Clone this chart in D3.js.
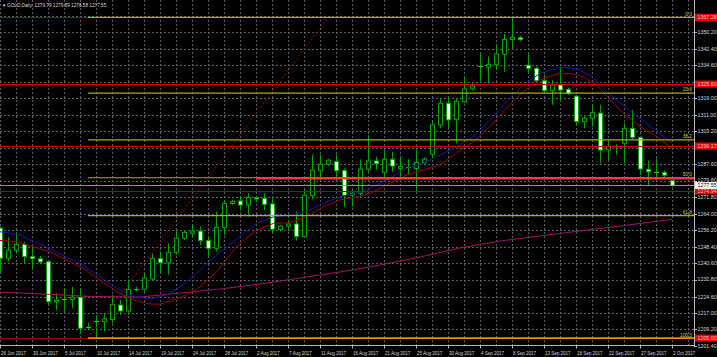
<!DOCTYPE html>
<html><head><meta charset="utf-8">
<script src="https://cdn.jsdelivr.net/npm/d3@7"></script>
<style>html,body{margin:0;padding:0;background:#000;overflow:hidden}svg{display:block}</style>
</head><body>
<svg id="c" width="717" height="357"></svg>
<script>
// ---------- DATA ----------
const symbolTitle = "GOLD,Daily";
const titleQuote = [1279.79, 1279.89, 1276.58, 1277.55];

const dates = [
"2017-06-26","2017-06-27","2017-06-28","2017-06-29","2017-06-30",
"2017-07-02","2017-07-03","2017-07-04","2017-07-05","2017-07-06","2017-07-07",
"2017-07-09","2017-07-10","2017-07-11","2017-07-12","2017-07-13","2017-07-14",
"2017-07-16","2017-07-17","2017-07-18","2017-07-19","2017-07-20","2017-07-21",
"2017-07-23","2017-07-24","2017-07-25","2017-07-26","2017-07-27","2017-07-28",
"2017-07-30","2017-07-31","2017-08-01","2017-08-02","2017-08-03","2017-08-04",
"2017-08-06","2017-08-07","2017-08-08","2017-08-09","2017-08-10","2017-08-11",
"2017-08-13","2017-08-14","2017-08-15","2017-08-16","2017-08-17","2017-08-18",
"2017-08-20","2017-08-21","2017-08-22","2017-08-23","2017-08-24","2017-08-25",
"2017-08-27","2017-08-28","2017-08-29","2017-08-30","2017-08-31","2017-09-01",
"2017-09-03","2017-09-04","2017-09-05","2017-09-06","2017-09-07","2017-09-08",
"2017-09-10","2017-09-11","2017-09-12","2017-09-13","2017-09-14","2017-09-15",
"2017-09-17","2017-09-18","2017-09-19","2017-09-20","2017-09-21","2017-09-22",
"2017-09-24","2017-09-25","2017-09-26","2017-09-27","2017-09-28","2017-09-29",
"2017-10-01","2017-10-02"];

const opens = [1257.2,1242.9,1246.8,1249.5,1243.7,1242.6,1241.3,1222.3,1223.0,1223.4,1224.4,
1209.7,1212.8,1212.8,1213.9,1220.7,1217.9,1228.1,1228.3,1233.1,1242.7,1240.8,1245.7,
1252.4,1254.8,1255.8,1251.3,1247.6,1257.6,1268.9,1270.1,1268.2,1271.7,1271.4,1268.7,
1256.6,1258.2,1259.2,1253.2,1272.6,1284.5,1287.5,1288.8,1284.5,1272.9,1273.8,1285.2,
1289.1,1283.7,1289.9,1285.5,1286.2,1285.5,1288.4,1292.3,1306.2,1316.5,1308.9,1317.2,
1323.3,1334.2,1333.7,1334.8,1339.7,1346.8,1347.6,1334.6,1333.1,1327.2,1322.5,1325.2,
1323.1,1319.9,1307.8,1309.4,1311.8,1294.3,1295.9,1297.5,1304.6,1300.2,1285.1,1284.0,
1283.7,1279.79];
const highs = [1257.9,1252.9,1254.8,1250.8,1248.4,1244.0,1242.1,1226.3,1228.7,1229.4,1228.7,
1212.3,1216.0,1216.8,1225.5,1223.1,1232.9,1229.5,1235.8,1245.3,1246.0,1250.0,1256.3,
1256.0,1258.7,1258.0,1253.2,1265.0,1270.3,1270.8,1272.3,1273.8,1272.5,1273.8,1271.4,
1258.8,1261.0,1265.0,1276.1,1292.0,1292.0,1290.0,1292.0,1285.6,1275.3,1289.9,1301.4,
1291.0,1294.3,1293.5,1291.1,1290.0,1294.3,1290.8,1307.8,1318.5,1319.5,1318.9,1329.1,
1326.0,1340.2,1338.6,1344.2,1349.4,1357.3,1348.5,1340.2,1333.9,1330.0,1327.5,1333.9,
1324.0,1320.4,1310.9,1315.7,1315.7,1298.7,1297.0,1307.0,1313.3,1300.7,1289.2,1290.4,
1284.5,1279.89];
const lows = [1235.9,1241.3,1245.3,1240.5,1238.1,1240.0,1220.7,1218.4,1217.6,1219.2,1207.3,
1208.8,1205.0,1208.1,1212.0,1216.0,1216.0,1227.3,1227.0,1232.6,1235.4,1235.0,1244.5,
1251.5,1253.2,1249.2,1243.7,1246.0,1253.9,1268.2,1265.6,1262.6,1270.0,1265.8,1254.8,
1255.6,1255.8,1251.3,1253.0,1270.9,1280.0,1286.8,1280.0,1267.4,1267.4,1272.1,1284.0,
1285.0,1281.7,1284.0,1281.7,1283.0,1273.8,1287.6,1290.4,1304.6,1304.6,1297.5,1316.5,
1322.5,1326.7,1326.0,1332.3,1331.5,1342.6,1346.0,1330.7,1326.0,1321.0,1315.7,1318.0,
1320.5,1306.2,1304.6,1305.4,1288.0,1289.6,1292.0,1288.0,1299.0,1282.4,1277.7,1280.1,
1281.5,1276.58];
const closes = [1242.9,1246.8,1249.5,1243.7,1242.7,1241.2,1222.3,1223.0,1223.5,1224.4,1209.7,
1210.2,1213.0,1214.1,1221.0,1217.9,1228.2,1228.5,1233.4,1242.9,1240.8,1245.7,1252.4,
1255.2,1255.8,1251.3,1247.6,1257.6,1269.0,1269.8,1268.2,1271.7,1271.1,1268.5,1256.7,
1258.2,1259.2,1253.2,1272.9,1284.8,1287.5,1289.5,1284.5,1272.9,1273.8,1285.2,1289.1,
1287.8,1289.9,1286.7,1286.5,1286.3,1288.4,1290.0,1306.2,1316.5,1308.6,1317.5,1323.3,
1324.7,1334.4,1335.0,1339.9,1346.8,1347.8,1346.7,1333.1,1327.2,1322.5,1325.2,1322.8,
1321.2,1307.8,1309.4,1312.1,1294.3,1295.9,1296.0,1304.6,1300.3,1285.3,1284.0,1284.1,
1282.4,1277.55];

// moving averages: [bar index, price]
const maFast = [[0,1255.5],[2.5,1254.0],[4.2,1250.8],[6.25,1247.6],[8.3,1243.4],[10.4,1239.7],
[12.5,1234.2],[14.6,1228.7],[16.7,1224.7],[18.75,1223.6],[20.8,1225.5],[22.9,1230.2],[25,1237.3],
[27.1,1244.5],[29.2,1250.8],[30,1253.2],[32.1,1259.5],[34.2,1262.6],[36.25,1263.5],[38.3,1265.0],
[40.4,1269.0],[42.5,1272.1],[44.6,1273.8],[46.7,1276.9],[48.75,1280.9],[50.8,1285.6],[52.9,1288.0],
[55,1291.9],[57.1,1296.0],[59.2,1300.6],[61.25,1308.6],[63.3,1317.2],[65.4,1325.2],[67.5,1330.7],
[69.6,1333.1],[70.8,1333.6],[72.5,1332.3],[74.2,1328.4],[75.8,1322.0],[77.9,1315.7],[80,1309.4],
[82.1,1303.0],[84,1297.6]];
const maSlow = [[0,1251.4],[2.1,1250.8],[4.2,1248.4],[6.25,1246.0],[8.3,1242.1],[10.4,1238.2],
[12.5,1232.6],[14.6,1227.0],[16.7,1223.1],[18.75,1221.2],[20,1221.1],[21.7,1223.1],[23.3,1225.5],
[25,1229.4],[27.1,1236.5],[29.2,1246.8],[30,1250.0],[32.1,1256.3],[34.2,1259.5],[36.25,1259.8],
[38.3,1262.6],[40.4,1267.4],[42.5,1270.6],[44.6,1272.1],[46.7,1274.5],[48.75,1278.5],[50.8,1282.4],
[52.9,1284.8],[55,1287.2],[57.1,1293.1],[59.2,1298.3],[61.25,1305.4],[63.3,1314.1],[65.4,1322.0],
[67.5,1327.6],[69.6,1330.3],[71.25,1330.7],[72.9,1329.1],[74.6,1325.2],[76.25,1318.1],[77.9,1311.7],
[80,1305.4],[82.1,1300.6],[84,1295.3]];
const maLong = [[-1,1227.0],[5,1226.0],[11.25,1224.8],[17.5,1224.5],[22.5,1226.4],[27.5,1228.3],
[32.5,1230.7],[37.5,1233.5],[42.5,1236.4],[47.5,1239.7],[52.5,1243.5],[57.5,1247.8],[62.5,1251.1],
[67.5,1253.5],[72.5,1255.9],[77.5,1258.2],[84,1261.4]];

const yTicks = [1201.40,1209.20,1217.00,1224.60,1232.80,1240.60,1248.40,1256.20,1264.00,1271.80,
1279.80,1287.60,1295.40,1303.20,1311.00,1319.00,1326.80,1334.60,1342.40,1350.20,1358.00];

const fibHigh = 1357.28, fibLow = 1205.00;
const fibAnchorBars = [11, 41];
const fibRatios = [0.0, 23.6, 38.2, 50.0, 61.8, 100.0];
const priceLevels = [1357.28, 1325.60, 1296.17, 1274.94, 1205.00];
const supportLine = {startBar: 32, price: 1280.80};
const bidPrice = 1277.55;

// ---------- LAYOUT ----------
const plotW = 694, plotB = 345.5;
const svg = d3.select("#c");
svg.append("rect").attr("width",717).attr("height",357).attr("fill","#000");
const x = d3.scaleLinear().domain([0, dates.length-1]).range([0, 672]);
const y = d3.scaleLinear().domain([1201.4, 1350.2]).range([345.7, 32.3]);
const px = v => Math.round(x(v)) + 0.5;
const FONT = "'Liberation Sans', Arial, sans-serif";

svg.append("defs").append("clipPath").attr("id","plot")
  .append("rect").attr("x",0).attr("y",0).attr("width",plotW).attr("height",plotB);
const g = svg.append("g").attr("clip-path","url(#plot)");

// grid
const gridColor = "#55606b";
g.append("g").selectAll("line").data(yTicks).join("line")
  .attr("x1",0).attr("x2",plotW)
  .attr("y1",d=>Math.round(y(d))+0.5).attr("y2",d=>Math.round(y(d))+0.5)
  .attr("stroke",gridColor).attr("stroke-width",1).attr("stroke-dasharray","2,2");
const vGrid = d3.range(0, dates.length + 2, 2);
g.append("g").selectAll("line").data(vGrid).join("line")
  .attr("x1",d=>px(d)).attr("x2",d=>px(d)).attr("y1",0).attr("y2",plotB)
  .attr("stroke",gridColor).attr("stroke-width",1).attr("stroke-dasharray","2,2");

const line = d3.line().x(d=>x(d[0])).y(d=>y(d[1]));
// candles
const green = "#00a400";
const cg = g.append("g");
dates.forEach((d,i)=>{
  const o=opens[i], h=highs[i], l=lows[i], c=closes[i];
  const cx = px(i);
  cg.append("line").attr("x1",cx).attr("x2",cx).attr("y1",y(h)).attr("y2",y(l))
    .attr("stroke",green).attr("stroke-width",1);
  const top = y(Math.max(o,c)), bot = y(Math.min(o,c));
  const hgt = bot - top;
  if (hgt < 1.2) {
    cg.append("line").attr("x1",cx-2.5).attr("x2",cx+2.5)
      .attr("y1",Math.round(top)+0.5).attr("y2",Math.round(top)+0.5)
      .attr("stroke","#18d018").attr("stroke-width",1);
  } else {
    cg.append("rect").attr("x",cx-2).attr("width",4)
      .attr("y",top).attr("height",hgt)
      .attr("fill", c>=o ? "#000" : "#fff")
      .attr("stroke",green).attr("stroke-width",1);
  }
});

// moving averages
g.append("path").datum(maLong).attr("d",line).attr("fill","none").attr("stroke","#a3155f").attr("stroke-width",1);
g.append("path").datum(maFast).attr("d",line).attr("fill","none").attr("stroke","#1a1aa8").attr("stroke-width",1);
g.append("path").datum(maSlow).attr("d",line).attr("fill","none").attr("stroke","#a00000").attr("stroke-width",1);

// horizontal price levels
const lvlColors = ["#a00000","#d00000","#d00000","#a00000","#a00000"];
g.append("g").selectAll("line").data(priceLevels).join("line")
  .attr("x1",0).attr("x2",plotW)
  .attr("y1",d=>Math.round(y(d))+0.5).attr("y2",d=>Math.round(y(d))+0.5)
  .attr("stroke",(d,i)=>lvlColors[i]).attr("stroke-width",1);

// bid line
g.append("line").attr("x1",0).attr("x2",plotW)
  .attr("y1",Math.round(y(bidPrice))+0.5).attr("y2",Math.round(y(bidPrice))+0.5)
  .attr("stroke","#8a9099").attr("stroke-width",1);

// fibonacci
const fibPrice = r => fibHigh - (fibHigh - fibLow) * r / 100;
g.append("line")
  .attr("x1",x(fibAnchorBars[0])).attr("y1",y(fibLow))
  .attr("x2",x(fibAnchorBars[1])).attr("y2",y(fibHigh))
  .attr("stroke","#a00000").attr("stroke-width",1).attr("stroke-dasharray","2,2");
g.append("g").selectAll("line").data(fibRatios).join("line")
  .attr("x1",x(fibAnchorBars[0])).attr("x2",plotW)
  .attr("y1",d=>y(fibPrice(d))).attr("y2",d=>y(fibPrice(d)))
  .attr("stroke",d=>d===100?"#ff8400":"#b0ac00")
  .attr("stroke-width",d=>d===100?1.6:1.2);
g.append("g").selectAll("text").data(fibRatios).join("text")
  .attr("x",692).attr("y",d=>y(fibPrice(d))-1.6)
  .attr("text-anchor","end").attr("font-family",FONT).attr("font-size",4.8)
  .attr("fill","#d4d400").text(d=>d.toFixed(1));

// support line (thick red)
g.append("line").attr("x1",x(supportLine.startBar)).attr("x2",plotW)
  .attr("y1",y(supportLine.price)).attr("y2",y(supportLine.price))
  .attr("stroke","#ff3a3a").attr("stroke-width",2.2);

// frame
svg.append("line").attr("x1",plotW+0.5).attr("x2",plotW+0.5).attr("y1",0).attr("y2",plotB+2)
  .attr("stroke","#b8b8b8").attr("stroke-width",1);
svg.append("line").attr("x1",0).attr("x2",plotW+1).attr("y1",plotB).attr("y2",plotB)
  .attr("stroke","#b8b8b8").attr("stroke-width",1);

// y axis labels (those hidden under a price-level tag in the reference are not drawn)
const hiddenBy = v => priceLevels.some(p => Math.abs(y(p) - y(v)) < 4);
const ya = svg.append("g");
ya.selectAll("line").data(yTicks).join("line")
  .attr("x1",plotW+0.5).attr("x2",plotW+3)
  .attr("y1",d=>Math.round(y(d))+0.5).attr("y2",d=>Math.round(y(d))+0.5)
  .attr("stroke","#b8b8b8");
ya.selectAll("text").data(yTicks.filter(v=>!hiddenBy(v))).join("text")
  .attr("x",697.5).attr("y",d=>y(d)+1.9)
  .attr("font-family",FONT).attr("font-size",5.3).attr("fill","#d6d6d6")
  .text(d=>d.toFixed(2));

// price level labels
const lg = svg.append("g");
priceLevels.forEach(p=>{
  lg.append("rect").attr("x",695).attr("y",y(p)-3.6).attr("width",22).attr("height",7.2).attr("fill","#e80000");
  lg.append("text").attr("x",697.5).attr("y",y(p)+1.9).attr("font-family",FONT).attr("font-size",5.3)
    .attr("fill","#ffc8c8").text(p.toFixed(2));
});
lg.append("rect").attr("x",695).attr("y",y(bidPrice)-3.2).attr("width",22).attr("height",6.8).attr("fill","#ffffff");
lg.append("text").attr("x",697.5).attr("y",y(bidPrice)+2.1).attr("font-family",FONT).attr("font-size",5.3)
  .attr("fill","#000").text(bidPrice.toFixed(2));

// x axis labels
const parse = d3.timeParse("%Y-%m-%d"), fmt = d3.timeFormat("%-d %b %Y");
const xTickIdx = d3.range(0, dates.length, 4);
const xa = svg.append("g");
xa.selectAll("line").data(xTickIdx).join("line")
  .attr("x1",d=>px(d)).attr("x2",d=>px(d)).attr("y1",plotB).attr("y2",plotB+3)
  .attr("stroke","#b8b8b8");
xa.selectAll("text").data(xTickIdx).join("text")
  .attr("x",d=>x(d)+1).attr("y",354.5)
  .attr("font-family",FONT).attr("font-size",4.5).attr("fill","#d6d6d6")
  .text(d=>fmt(parse(dates[d])));

// title
svg.append("text").attr("x",2).attr("y",7).attr("font-family",FONT).attr("font-size",4.2)
  .attr("fill","#d6d6d6").text("▼");
svg.append("text").attr("x",7).attr("y",7).attr("font-family",FONT).attr("font-size",4.7)
  .attr("fill","#d6d6d6").attr("xml:space","preserve")
  .text(symbolTitle + "  " + titleQuote.map(v=>v.toFixed(2)).join(" "));
</script>
</body></html>
